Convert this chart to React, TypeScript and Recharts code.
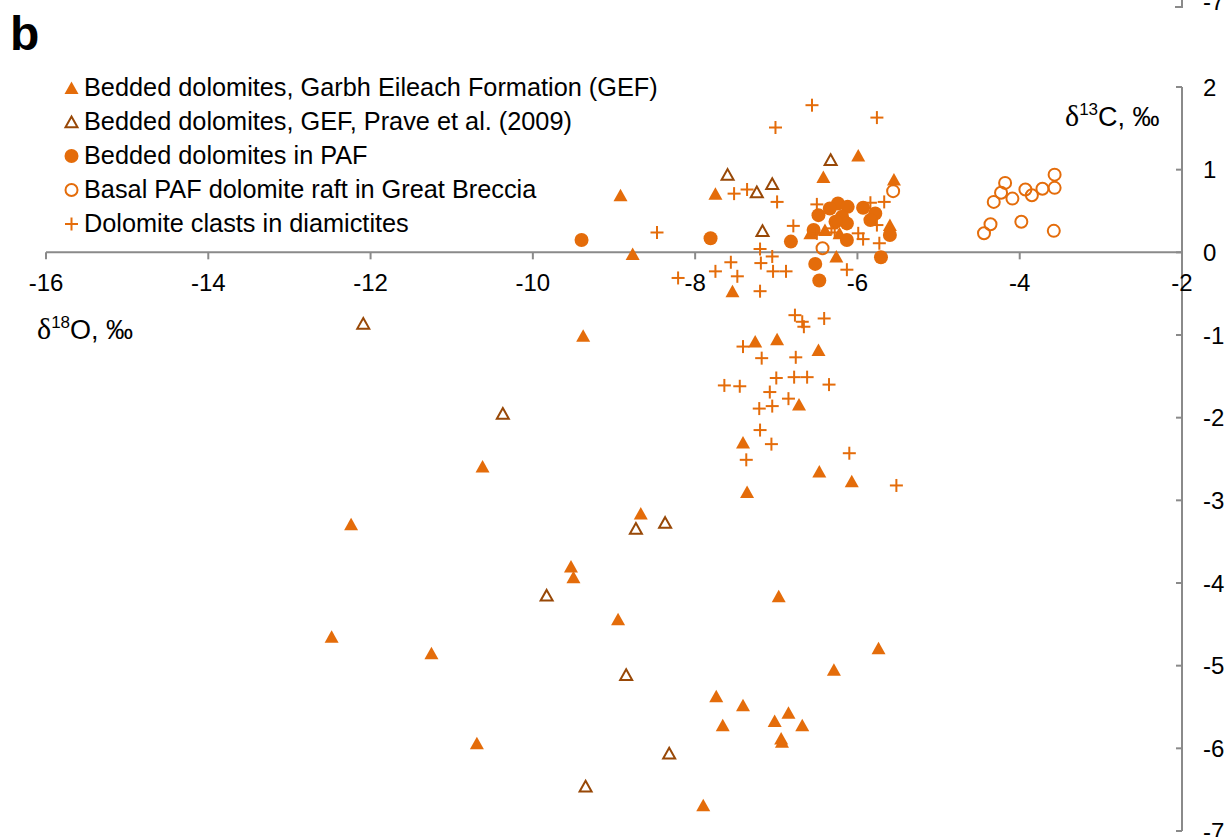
import React from "react";
import {
	ScatterChart,
	Scatter,
	XAxis,
	YAxis,
	ReferenceLine,
	ReferenceDot,
} from "recharts";

const ORANGE = "#E46C0A";
const BROWN = "#984807";
const AXIS = "#8a8a8a";
const FONT = "'Liberation Sans', Arial, sans-serif";

const xTicks = [-16, -14, -12, -10, -8, -6, -4, -2];
const yTicks = [2, 1, 0, -1, -2, -3, -4, -5, -6, -7];

// d18O, d13C pairs
const gefBedded: [number, number][] = [
	[-8.92, 0.69], [-8.77, -0.02], [-7.75, 0.71], [-7.54, -0.47], [-6.42, 0.91],
	[-5.99, 1.17], [-5.55, 0.88], [-5.6, 0.33], [-6.58, 0.23], [-6.4, 0.27],
	[-6.22, 0.23], [-6.26, -0.05], [-7.26, -1.08], [-6.99, -1.05], [-6.48, -1.18],
	[-6.72, -1.84], [-7.41, -2.3], [-6.47, -2.65], [-6.07, -2.77], [-7.36, -2.9],
	[-9.38, -1.01], [-10.62, -2.59], [-12.24, -3.29], [-8.67, -3.16], [-9.53, -3.8],
	[-9.5, -3.93], [-8.95, -4.44], [-12.48, -4.65], [-11.25, -4.85], [-10.69, -5.94],
	[-6.97, -4.16], [-5.74, -4.79], [-6.29, -5.05], [-7.74, -5.37], [-7.41, -5.48],
	[-7.66, -5.72], [-7.02, -5.67], [-6.85, -5.57], [-6.68, -5.72], [-6.94, -5.88],
	[-6.93, -5.92], [-7.9, -6.69],
];

const gefPrave: [number, number][] = [
	[-12.09, -0.86], [-10.37, -1.95], [-8.73, -3.34], [-8.37, -3.27], [-9.83, -4.15],
	[-8.85, -5.11], [-8.32, -6.06], [-9.35, -6.46], [-7.6, 0.94], [-7.05, 0.83],
	[-7.24, 0.73], [-7.17, 0.26], [-6.33, 1.12],
];

const pafBedded: [number, number][] = [
	[-9.4, 0.15], [-7.81, 0.17], [-6.82, 0.13], [-6.24, 0.59], [-6.12, 0.55],
	[-6.34, 0.53], [-6.48, 0.45], [-6.19, 0.43], [-5.93, 0.54], [-5.78, 0.47],
	[-5.84, 0.39], [-6.13, 0.35], [-6.27, 0.37], [-6.54, 0.27], [-6.13, 0.15],
	[-5.6, 0.21], [-5.71, -0.06], [-6.52, -0.14], [-6.47, -0.34],
];

const pafRaft: [number, number][] = [
	[-4.44, 0.23], [-4.36, 0.34], [-4.32, 0.61], [-4.23, 0.72], [-4.18, 0.84],
	[-4.09, 0.65], [-3.98, 0.37], [-3.93, 0.76], [-3.85, 0.69], [-3.72, 0.77],
	[-3.57, 0.94], [-3.57, 0.78], [-3.58, 0.26], [-6.43, 0.05], [-5.56, 0.74],
];

const clasts: [number, number][] = [
	[-6.56, 1.78], [-5.76, 1.63], [-7.01, 1.51], [-7.52, 0.71], [-7.36, 0.76],
	[-6.99, 0.61], [-8.47, 0.24], [-6.79, 0.32], [-6.5, 0.58], [-5.84, 0.6],
	[-5.67, 0.61], [-5.76, 0.33], [-5.99, 0.23], [-5.93, 0.16], [-6.32, 0.29],
	[-6.28, 0.24], [-6.5, 0.23], [-5.73, 0.11], [-6.13, -0.21], [-7.2, 0.04],
	[-7.19, -0.13], [-7.05, -0.05], [-7.04, -0.23], [-6.88, -0.23], [-8.21, -0.31],
	[-7.75, -0.23], [-7.56, -0.12], [-7.48, -0.29], [-7.2, -0.47], [-6.77, -0.76],
	[-6.68, -0.84], [-6.66, -0.9], [-6.41, -0.8], [-7.41, -1.14], [-7.18, -1.28],
	[-6.76, -1.27], [-7.0, -1.52], [-6.78, -1.51], [-6.62, -1.51], [-6.35, -1.6],
	[-7.64, -1.61], [-7.45, -1.62], [-7.08, -1.69], [-6.85, -1.77], [-7.05, -1.86],
	[-7.21, -1.89], [-7.2, -2.15], [-7.06, -2.32], [-7.37, -2.51], [-6.1, -2.43],
	[-5.52, -2.82],
];

const legendLabels = [
	"Bedded dolomites, Garbh Eileach Formation (GEF)",
	"Bedded dolomites, GEF, Prave et al. (2009)",
	"Bedded dolomites in PAF",
	"Basal PAF dolomite raft in Great Breccia",
	"Dolomite clasts in diamictites",
];

const toPoints = (arr: [number, number][]) => arr.map(([x, y]) => ({ x, y }));

// marker shapes
const filledTri = (cx: number, cy: number) => (
	<path d={`M${cx},${cy - 6.5}L${cx + 7},${cy + 6}L${cx - 7},${cy + 6}Z`} fill={ORANGE} />
);
const openTri = (cx: number, cy: number) => (
	<path
		d={`M${cx},${cy - 5.5}L${cx + 6},${cy + 5.2}L${cx - 6},${cy + 5.2}Z`}
		fill="none"
		stroke={BROWN}
		strokeWidth={2}
	/>
);
const filledDot = (cx: number, cy: number) => <circle cx={cx} cy={cy} r={7} fill={ORANGE} />;
const openDot = (cx: number, cy: number) => (
	<circle cx={cx} cy={cy} r={6} fill="none" stroke={ORANGE} strokeWidth={2} />
);
const plus = (cx: number, cy: number) => (
	<g stroke={ORANGE} strokeWidth={2}>
		<line x1={cx - 6.5} y1={cy} x2={cx + 6.5} y2={cy} />
		<line x1={cx} y1={cy - 6.5} x2={cx} y2={cy + 6.5} />
	</g>
);

const markers = [filledTri, openTri, filledDot, openDot, plus];

const wrap = (fn: (cx: number, cy: number) => React.ReactElement) => (p: any) => fn(p.cx, p.cy);

export default function App() {
	return (
		<div style={{ position: "absolute", left: 0, top: 0, width: 1229, height: 837, background: "#fff" }}>
			<ScatterChart
				width={1229}
				height={837}
				margin={{ top: 87, right: 47, bottom: 6, left: 46 }}
			>
				<XAxis type="number" dataKey="x" domain={[-16, -2]} ticks={xTicks} hide />
				<YAxis type="number" dataKey="y" domain={[-7, 2]} ticks={yTicks} hide />
				<ReferenceLine y={0} stroke={AXIS} strokeWidth={2} />
				<ReferenceLine x={-2} stroke={AXIS} strokeWidth={2} />
				{xTicks.map((t) => (
					<ReferenceDot
						key={"xt" + t}
						x={t}
						y={0}
						r={0}
						shape={(p: any) => (
							<g>
								<line x1={p.cx} y1={p.cy} x2={p.cx} y2={p.cy + 7} stroke={AXIS} strokeWidth={2} />
								<text x={p.cx} y={p.cy + 39} textAnchor="middle" fontSize={24} fontFamily={FONT} fill="#000">
									{t}
								</text>
							</g>
						)}
					/>
				))}
				{yTicks.map((t) => (
					<ReferenceDot
						key={"yt" + t}
						x={-2}
						y={t}
						r={0}
						shape={(p: any) => (
							<g>
								<line x1={p.cx - 6} y1={p.cy} x2={p.cx} y2={p.cy} stroke={AXIS} strokeWidth={2} />
								<text x={p.cx + 21} y={p.cy} dy="0.36em" textAnchor="start" fontSize={24} fontFamily={FONT} fill="#000">
									{t}
								</text>
							</g>
						)}
					/>
				))}
				<Scatter data={toPoints(gefBedded)} shape={wrap(filledTri)} isAnimationActive={false} />
				<Scatter data={toPoints(gefPrave)} shape={wrap(openTri)} isAnimationActive={false} />
				<Scatter data={toPoints(pafBedded)} shape={wrap(filledDot)} isAnimationActive={false} />
				<Scatter data={toPoints(pafRaft)} shape={wrap(openDot)} isAnimationActive={false} />
				<Scatter data={toPoints(clasts)} shape={wrap(plus)} isAnimationActive={false} />
			</ScatterChart>
			<svg
				width={1229}
				height={837}
				style={{ position: "absolute", left: 0, top: 0, pointerEvents: "none" }}
			>
				{/* edge of the panel above */}
				<line x1={1182} y1={0} x2={1182} y2={8} stroke={AXIS} strokeWidth={2} />
				<line x1={1175} y1={7} x2={1182} y2={7} stroke={AXIS} strokeWidth={2} />
				<text x={1203} y={10} fontSize={24} fontFamily={FONT} fill="#000">-7</text>
				<text x={10} y={50} fontSize={48} fontWeight="bold" fontFamily={FONT} fill="#000">
					b
				</text>
				{legendLabels.map((label, i) => {
					const base = 96 + i * 34;
					return (
						<g key={label}>
							{markers[i](71.5, base - 8)}
							<text x={84} y={base} fontSize={25.3} fontFamily={FONT} fill="#000">
								{label}
							</text>
						</g>
					);
				})}
				<text x={1065} y={126} fontSize={27} fontFamily={FONT} fill="#000">
					<tspan fontFamily="'Liberation Serif', serif" fontSize={30}>δ</tspan>
					<tspan fontSize={17} dy={-11}>13</tspan>
					<tspan dy={11}>C, ‰</tspan>
				</text>
				<text x={37} y={339} fontSize={27} fontFamily={FONT} fill="#000">
					<tspan fontFamily="'Liberation Serif', serif" fontSize={30}>δ</tspan>
					<tspan fontSize={17} dy={-11}>18</tspan>
					<tspan dy={11}>O, ‰</tspan>
				</text>
			</svg>
		</div>
	);
}
